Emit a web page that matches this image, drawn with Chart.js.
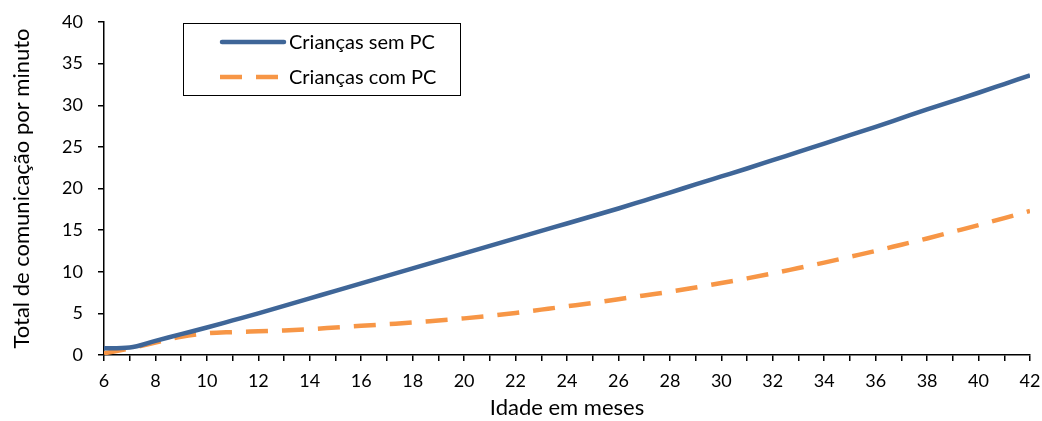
<!DOCTYPE html>
<html><head><meta charset="utf-8">
<script src="https://cdn.jsdelivr.net/npm/chart.js@4"></script>
<style>html,body{margin:0;padding:0;background:#fff}#w{width:1042px;height:421px}</style>
</head><body><div id="w"><canvas id="c" width="1042" height="421"></canvas></div>
<script>
const months = [6,7,8,9,10,11,12,13,14,15,16,17,18,19,20,21,22,23,24,25,26,27,28,29,30,31,32,33,34,35,36,37,38,39,40,41,42];
const semPC = [0.8,0.9,1.7,2.5,3.3,4.15,5.0,5.9,6.8,7.7,8.6,9.5,10.4,11.3,12.2,13.1,14.0,14.9,15.8,16.7,17.6,18.55,19.5,20.5,21.45,22.4,23.4,24.4,25.4,26.4,27.4,28.45,29.5,30.5,31.5,32.55,33.6];
const comPC = [0.2,0.8,1.5,2.2,2.6,2.75,2.85,2.95,3.1,3.3,3.5,3.7,3.9,4.15,4.4,4.7,5.05,5.45,5.85,6.25,6.7,7.15,7.6,8.1,8.65,9.2,9.8,10.45,11.1,11.8,12.5,13.25,14.0,14.8,15.6,16.45,17.3];
const xTickLabels = [6,8,10,12,14,16,18,20,22,24,26,28,30,32,34,36,38,40,42];
const yTicks = [0,5,10,15,20,25,30,35,40];
const seriesNames = ['Crianças sem PC','Crianças com PC'];
const colors = ['#3F6698','#F79646'];

const FONT = 'Lato, "Open Sans", sans-serif';

const legendPlugin = {
  id: 'boxLegend',
  afterDraw(chart) {
    const ctx = chart.ctx;
    ctx.save();
    ctx.strokeStyle = '#000';
    ctx.lineWidth = 1;
    ctx.strokeRect(183.5, 23.5, 277, 72);
    ctx.lineWidth = 4.5;
    ctx.lineCap = 'round';
    ctx.strokeStyle = colors[0];
    ctx.beginPath(); ctx.moveTo(222, 42); ctx.lineTo(284, 42); ctx.stroke();
    ctx.strokeStyle = colors[1];
    ctx.lineCap = 'butt';
    ctx.setLineDash([22, 14]);
    ctx.beginPath(); ctx.moveTo(220, 77); ctx.lineTo(286, 77); ctx.stroke();
    ctx.setLineDash([]);
    ctx.fillStyle = '#000';
    ctx.font = '20px ' + FONT;
    ctx.textBaseline = 'middle';
    ctx.fillText(seriesNames[0], 289, 43);
    ctx.fillText(seriesNames[1], 289, 78);
    ctx.restore();
  }
};

new Chart(document.getElementById('c'), {
  type: 'line',
  data: {
    datasets: [
      { label: seriesNames[0], data: months.map((m,i)=>({x:m,y:semPC[i]})), borderColor: colors[0], borderWidth: 4.5, pointRadius: 0, cubicInterpolationMode: 'monotone', fill: false },
      { label: seriesNames[1], data: months.map((m,i)=>({x:m,y:comPC[i]})), borderColor: colors[1], borderWidth: 4.5, borderDash: [22,14], pointRadius: 0, cubicInterpolationMode: 'monotone', fill: false }
    ]
  },
  options: {
    responsive: false,
    animation: false,
    layout: { padding: { left: 0, right: 12, top: 22, bottom: 0 } },
    plugins: { legend: { display: false }, tooltip: { enabled: false } },
    scales: {
      x: {
        type: 'linear', min: 6, max: 42,
        afterFit(s) { s.height = 66; s.paddingLeft = 0; s.paddingRight = 0; },
        afterBuildTicks(s) { s.ticks = months.map(v => ({ value: v })); },
        ticks: {
          autoSkip: false, maxRotation: 0, color: '#000', padding: 9,
          font: { size: 18, family: FONT },
          callback: v => xTickLabels.includes(v) ? String(v) : ''
        },
        grid: { drawOnChartArea: false, drawTicks: true, tickLength: 6, color: '#000', lineWidth: 1.5 },
        border: { color: '#000', width: 1.5 },
        title: { display: true, text: 'Idade em meses', color: '#000', font: { size: 22, family: FONT }, padding: { top: -6, bottom: 0 } }
      },
      y: {
        min: 0, max: 40,
        afterFit(s) { s.width = 104; s.paddingTop = 0; s.paddingBottom = 0; },
        afterBuildTicks(s) { s.ticks = yTicks.map(v => ({ value: v })); },
        ticks: { color: '#000', padding: 15, font: { size: 18, family: FONT } },
        grid: { drawOnChartArea: false, drawTicks: true, tickLength: 6, color: '#000', lineWidth: 1.5 },
        border: { color: '#000', width: 1.5 },
        title: { display: true, text: 'Total de comunicação por minuto', color: '#000', font: { size: 22, family: FONT }, padding: { top: 9, bottom: 0 } }
      }
    }
  },
  plugins: [legendPlugin]
});
</script>
</body></html>
